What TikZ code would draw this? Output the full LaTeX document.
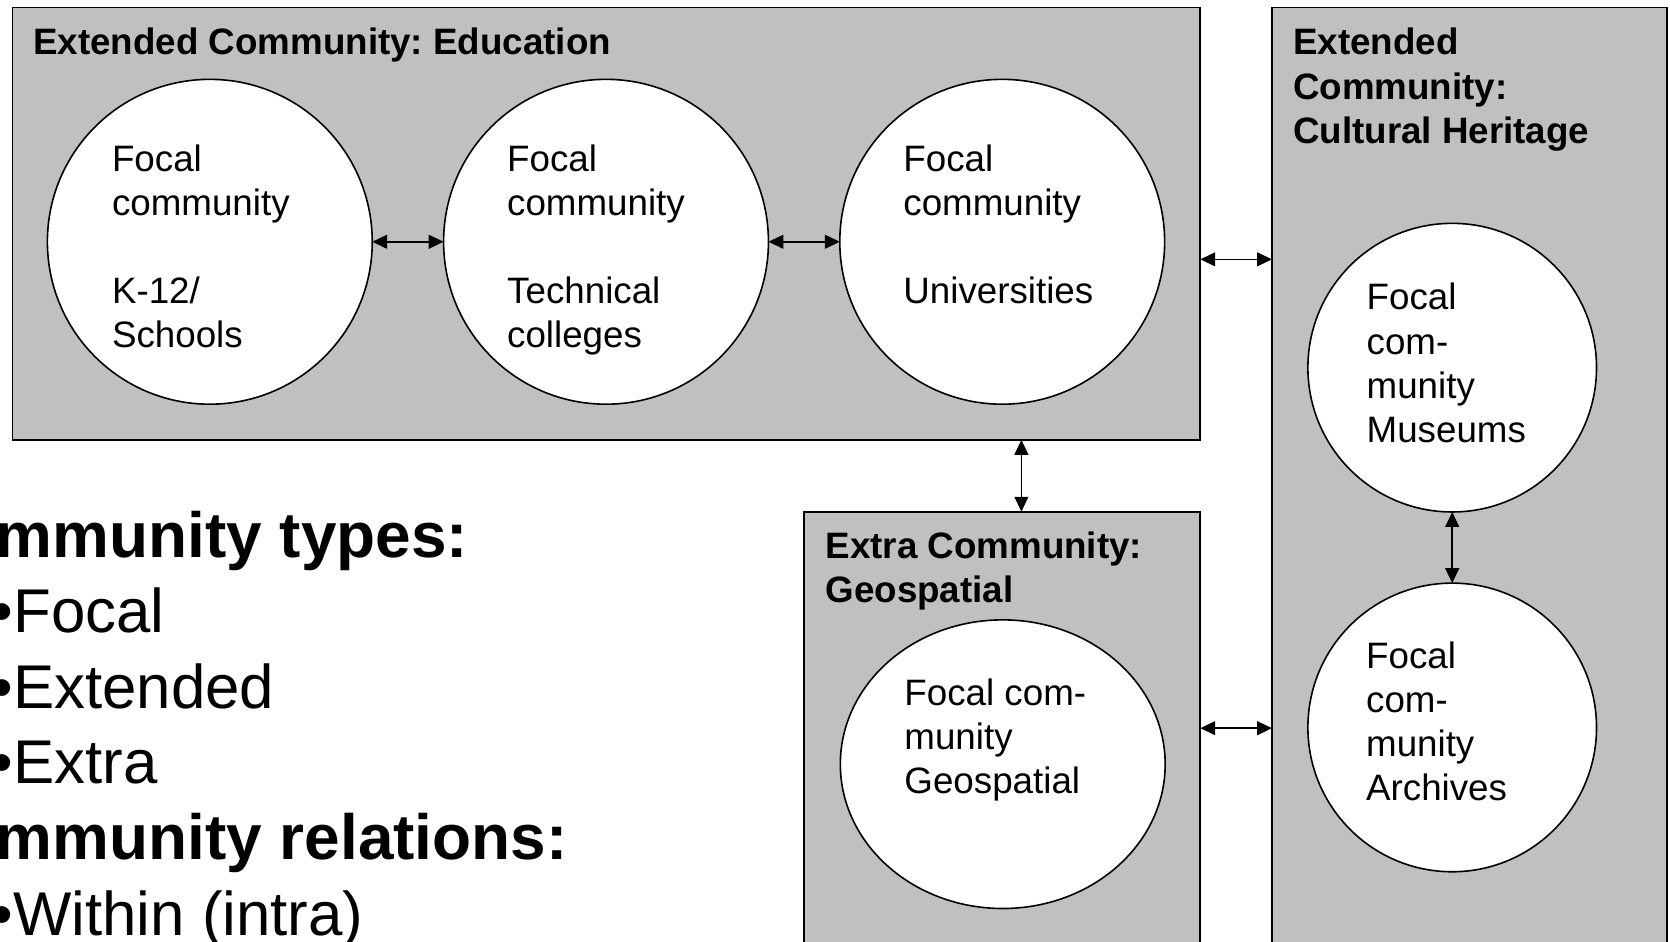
\documentclass[tikz,border=0pt]{standalone}
\usepackage{fontspec}
\setmainfont{Liberation Sans}
\usetikzlibrary{arrows.meta,shapes.geometric}
\frenchspacing

% multi-line text block whose reference point is the first baseline
\newcommand\txtblock[1]{\begin{tabular}[t]{@{}l@{}}#1\end{tabular}}
% bulleted legend entry
\newcommand\legitem[1]{\hspace*{76pt}{\fontsize{58}{71}\selectfont •#1}}

\begin{document}
\begin{tikzpicture}[x=1pt,y=-1pt,
  group/.style={draw=black, line width=1.8pt, fill=boxgray, rectangle,
    inner sep=0pt, outer sep=0pt, anchor=north west},
  focal/.style={draw=black, line width=1.5pt, fill=white, circle,
    inner sep=0pt, outer sep=0pt, minimum size=271pt},
  bigfocal/.style={focal, minimum size=305pt},
  body/.style={anchor=base west, inner sep=0pt,
    font=\fontsize{34.5}{41.5}\selectfont},
  head/.style={anchor=base west, inner sep=0pt,
    font=\fontsize{34.5}{41.5}\selectfont\bfseries},
  legend/.style={anchor=base west, inner sep=0pt,
    font=\fontsize{60}{71}\selectfont},
  link/.style={{Triangle[length=14pt,width=13pt]}-{Triangle[length=14pt,width=13pt]},
    line width=1.5pt}]
\definecolor{boxgray}{RGB}{192,192,192}

\clip (0,0) rectangle (1568,884);
\fill[white] (0,0) rectangle (1568,884);

% community groups
\node[group, minimum width=1115.3pt, minimum height=406pt] (edu) at (11.7,7) {};
\node[group, minimum width=371.2pt, minimum height=960pt] (ch) at (1194.3,7) {};
\node[group, minimum width=372pt, minimum height=480pt] (geo) at (755,480.4) {};

% group headings
\node[head] (eduhead) at (31,51.6) {Extended Community: Education};
\node[head] (chhead) at (1214,51.6) {\txtblock{Extended\\Community:\\Cultural Heritage}};
\node[head] (geohead) at (775,524) {\txtblock{Extra Community:\\Geospatial}};

% focal communities
\node[bigfocal] (k12) at (197,227) {};
\node[bigfocal] (tech) at (569,227) {};
\node[bigfocal] (univ) at (941,227) {};
\node[focal, ellipse, minimum width=305pt, minimum height=271pt] (geos) at (941.5,717.5) {};
\node[focal] (mus) at (1363.5,345.2) {};
\node[focal] (arc) at (1363.5,683) {};

\node[body] (k12t) at (105,160.6) {\txtblock{Focal\\community\\ \\K-12/\\Schools}};
\node[body] (techt) at (476,160.6) {\txtblock{Focal\\community\\ \\Technical\\colleges}};
\node[body] (univt) at (848,160.6) {\txtblock{Focal\\community\\ \\Universities}};
\node[body] (geost) at (849,662) {\txtblock{Focal com-\\munity\\Geospatial}};
\node[body] (must) at (1283,291) {\txtblock{Focal\\com-\\munity\\Museums}};
\node[body] (arct) at (1282.5,627.5) {\txtblock{Focal\\com-\\munity\\Archives}};

% relations
\draw[link] (k12) -- (tech);
\draw[link] (tech) -- (univ);
\draw[link] (mus.south) -- (arc.north);
\draw[link] (edu.east |- 0,243.5) -- (ch.west |- 0,243.5);
\draw[link] (geo.east |- 0,683.7) -- (ch.west |- 0,683.7);
\draw[link] (edu.south -| 959,0) -- (geo.north -| 959,0);

% legend
\node[legend] (legend) at (-84,523) {\txtblock{\bfseries Community types:\\
  \legitem{Focal}\\
  \legitem{Extended}\\
  \legitem{Extra}\\
  \bfseries Community relations:\\
  \legitem{Within (intra)}}};
\end{tikzpicture}
\end{document}
